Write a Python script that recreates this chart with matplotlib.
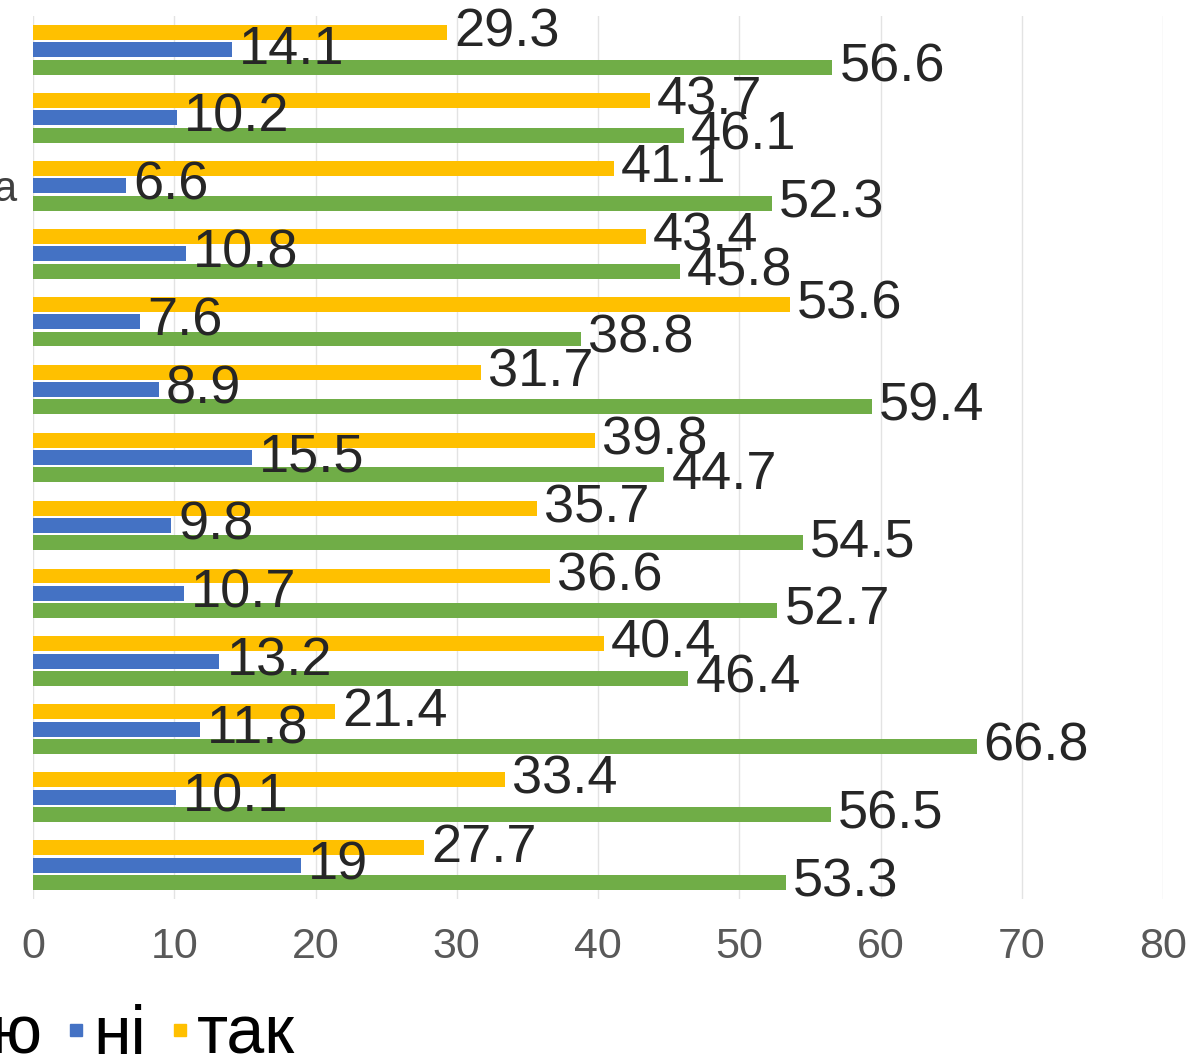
import numpy as np
import matplotlib.pyplot as plt
from matplotlib.lines import Line2D

plt.rcParams['font.family'] = ['Liberation Sans', 'DejaVu Sans']

# values per group, top to bottom
tak = [29.3, 43.7, 41.1, 43.4, 53.6, 31.7, 39.8, 35.7, 36.6, 40.4, 21.4, 33.4, 27.7]
ni = [14.1, 10.2, 6.6, 10.8, 7.6, 8.9, 15.5, 9.8, 10.7, 13.2, 11.8, 10.1, 19]
ne_znayu = [56.6, 46.1, 52.3, 45.8, 38.8, 59.4, 44.7, 54.5, 52.7, 46.4, 66.8, 56.5, 53.3]
# category labels are cut off in the picture, only the end of one shows
cat_labels = ['', '', 'а', '', '', '', '', '', '', '', '', '', '']
series_names = ['не знаю', 'ні', 'так']

c_yellow = '#FFC000'
c_blue = '#4472C4'
c_green = '#70AD47'

W, H = 1194, 1059
fig = plt.figure(figsize=(W / 100, H / 100), dpi=100)
ax = fig.add_axes([33 / W, 1 - 899 / H, (1163 - 33) / W, (899 - 16) / H])

y = np.arange(len(tak))
h = 0.22
off = 0.255

b1 = ax.barh(y - off, tak, height=h, color=c_yellow, zorder=2)
b2 = ax.barh(y, ni, height=h, color=c_blue, zorder=2)
b3 = ax.barh(y + off, ne_znayu, height=h, color=c_green, zorder=2)

for b in (b1, b2, b3):
    labs = ax.bar_label(b, fmt='%g', padding=5, fontsize=39, color='#262626')
    for t in labs:
        t.set_zorder(5)

ax.set_xlim(0, 80)
ax.set_ylim(len(tak) - 0.5, -0.5)
ax.set_xticks(np.arange(0, 81, 10))
ax.set_yticks(y)
ax.set_yticklabels(cat_labels)
ax.tick_params(axis='x', length=0, labelsize=31, labelcolor='#595959', pad=20)
ax.tick_params(axis='y', length=0, labelsize=30, labelcolor='#404040', pad=12)
ax.grid(axis='x', color='#e3e3e3', lw=1, zorder=0)
ax.set_axisbelow(True)
for s in ax.spines.values():
    s.set_visible(False)

handles = [Line2D([], [], ls='none', marker='s', markersize=8, color=c)
           for c in (c_green, c_blue, c_yellow)]
leg = fig.legend(handles, series_names, loc='lower left', ncol=3, frameon=False,
                 fontsize=49, handlelength=0.3, handletextpad=0.1,
                 columnspacing=0.35, borderpad=0, borderaxespad=0,
                 bbox_to_anchor=(0, 0))

# shift the legend so that it lines up with the cropped reference
fig.canvas.draw()
bb = leg.get_texts()[1].get_window_extent()
dx = 93 - bb.x0
dy = (H - 1068) - bb.y0
leg.set_bbox_to_anchor((dx / W, dy / H))

fig.savefig('out.png', dpi=100)
